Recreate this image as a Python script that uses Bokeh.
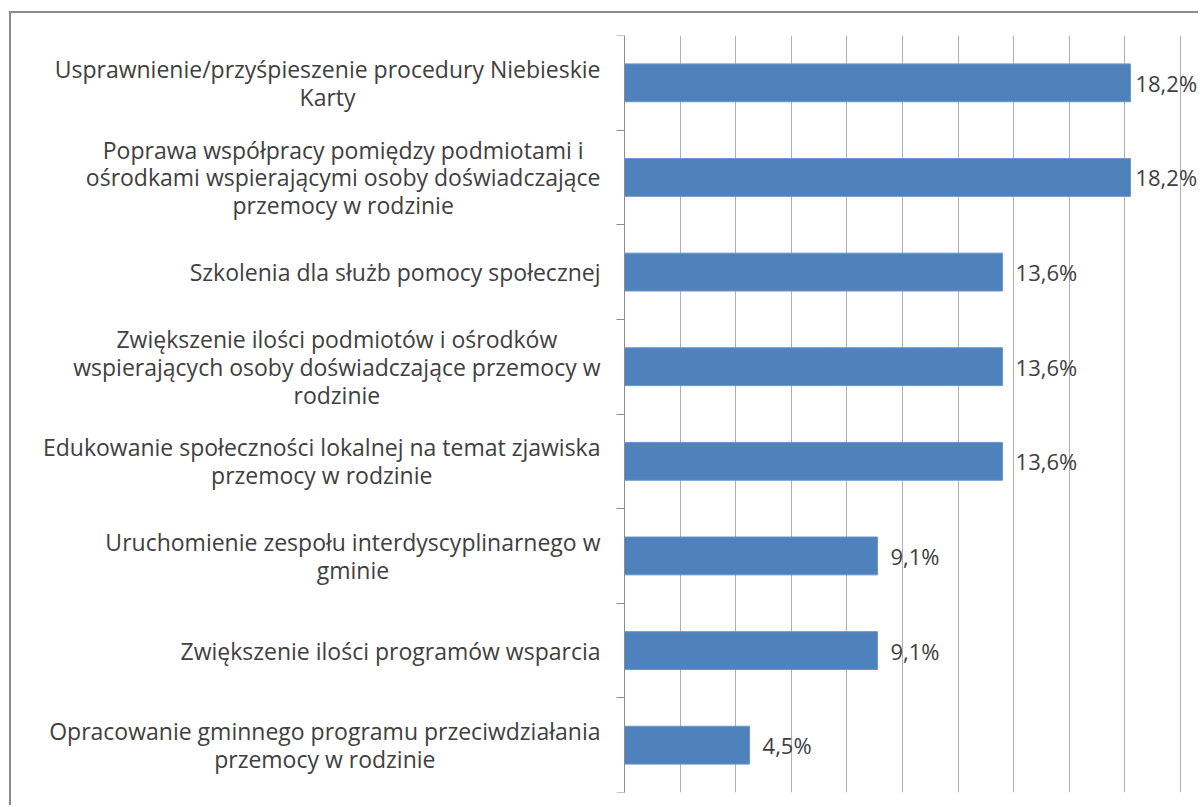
from bokeh.plotting import figure
from bokeh.models import Range1d, FixedTicker, ColumnDataSource, LinearAxis
from bokeh.core.properties import value
from bokeh.embed import file_html
from bokeh.resources import INLINE

categories = [
    "Usprawnienie/przyśpieszenie procedury Niebieskie\nKarty",
    "Poprawa współpracy pomiędzy podmiotami i\nośrodkami wspierającymi osoby doświadczające\nprzemocy w rodzinie",
    "Szkolenia dla służb pomocy społecznej",
    "Zwiększenie ilości podmiotów i ośrodków\nwspierających osoby doświadczające przemocy w\nrodzinie",
    "Edukowanie społeczności lokalnej na temat zjawiska\nprzemocy w rodzinie",
    "Uruchomienie zespołu interdyscyplinarnego w\ngminie",
    "Zwiększenie ilości programów wsparcia",
    "Opracowanie gminnego programu przeciwdziałania\nprzemocy w rodzinie",
]
values = [18.2, 18.2, 13.6, 13.6, 13.6, 9.1, 9.1, 4.5]
x_ticks = [0, 2, 4, 6, 8, 10, 12, 14, 16, 18, 20]

FONT = "Open Sans"
TXT = "#404040"
BORDER = "#8c8c8c"

n = len(categories)
centers = [i + 0.5 for i in range(n)]
labels = [f"{v:.1f}".replace(".", ",") + "%" for v in values]
vmax = max(values)
offsets = [5 if v == vmax else 13 for v in values]
zeros = [0] * n

src = ColumnDataSource(dict(y=centers, v=values, lab=labels, off=offsets, cat=categories, z=zeros))

p = figure(width=1189, height=794, output_backend="svg", toolbar_location=None,
           x_range=Range1d(-22.05, 20.72), y_range=Range1d(n, 0),
           x_axis_location=None, y_axis_location=None,
           min_border_left=0, min_border_right=0, min_border_top=22, min_border_bottom=15)
p.outline_line_color = None
p.background_fill_color = "white"
p.border_fill_color = "white"
p.styles = {"margin-left": "9px", "margin-top": "11px",
            "border-top": f"2px solid {BORDER}", "border-left": f"2px solid {BORDER}"}

p.ygrid.visible = False
p.xgrid.ticker = FixedTicker(ticks=x_ticks)
p.xgrid.grid_line_color = "#b0b0b0"
p.xgrid.grid_line_width = 1

yaxis = LinearAxis(ticker=FixedTicker(ticks=[], minor_ticks=list(range(n + 1))), fixed_location=0)
yaxis.major_tick_out = 0
yaxis.major_tick_in = 0
yaxis.minor_tick_out = 8
yaxis.minor_tick_in = 0
yaxis.minor_tick_line_color = BORDER
yaxis.axis_line_color = BORDER
yaxis.major_label_text_font_size = "0px"
p.add_layout(yaxis, "left")

p.hbar(y="y", right="v", left=0, height=0.4, source=src,
       fill_color="#4f81bd", line_color="#6a96cc", line_width=1)

p.text(x="v", y="y", text="lab", source=src, x_offset="off",
       text_font=value(FONT), text_font_size="22px", text_color=TXT,
       text_baseline="middle", text_align="left")

p.text(x="z", y="y", text="cat", source=src, x_offset=-24,
       anchor="center_right", text_align="center", text_baseline="middle",
       text_font=value(FONT), text_font_size="23px", text_color=TXT,
       text_line_height=0.87)

open("out.html", "w").write(file_html(p, INLINE))
